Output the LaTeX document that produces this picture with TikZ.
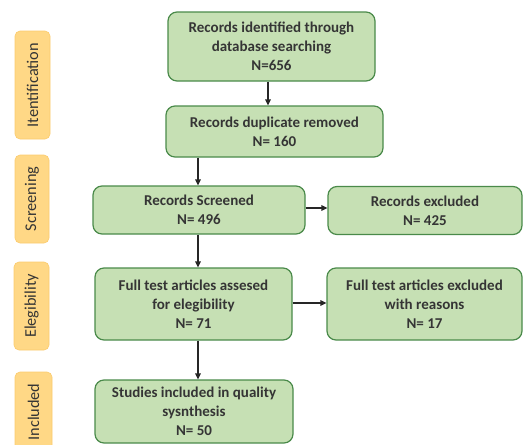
\documentclass[tikz,border=0pt]{standalone}
\usepackage{fontspec}
\setmainfont{Carlito}
\usetikzlibrary{arrows.meta,calc}
\definecolor{boxfill}{HTML}{C6E0B4}
\definecolor{boxline}{HTML}{4A8A4A}
\definecolor{tagfill}{HTML}{FFD886}
\definecolor{tagline}{HTML}{FBCB6E}
\definecolor{txt}{HTML}{353535}
\tikzset{
  x=1pt,y=-1pt,
  stagebox/.style={draw=boxline, fill=boxfill, line width=1.2pt, rounded corners=9pt,
    align=center, text=txt, inner sep=2pt,
    font=\bfseries\fontsize{15}{19}\selectfont},
  tagbox/.style={draw=tagline, fill=tagfill, line width=0.6pt, rounded corners=5pt,
    rotate=90, text=txt, inner sep=0pt, font=\fontsize{16.3}{18}\selectfont},
  arr/.style={-{Triangle[length=6pt,width=5.5pt]}, line width=1.4pt, draw=black!85}
}
\begin{document}
\begin{tikzpicture}
\useasboundingbox (0,0) rectangle (523,445);
% stage tags
\node[tagbox, minimum width=108pt, minimum height=35pt] (t1) at (32.5,85) {Itentification};
\node[tagbox, minimum width=88pt, minimum height=34pt] (t2) at (32,199) {Screening};
\node[tagbox, minimum width=88pt, minimum height=35pt] (t3) at (31.5,306) {Elegibility};
\node[tagbox, minimum width=80pt, minimum height=37pt] (t4) at (33.5,412) {Included};
% boxes
\node[stagebox, minimum width=207pt, minimum height=69pt] (b1) at (271.5,46.5)
  {Records identified through\\database searching\\N=656};
\node[stagebox, minimum width=217pt, minimum height=51pt] (b2) at (274.5,131.5)
  {Records duplicate removed\\N= 160};
\node[stagebox, minimum width=212pt, minimum height=48pt] (b3) at (199,210)
  {Records Screened\\N= 496};
\node[stagebox, minimum width=194pt, minimum height=48pt] (b4) at (425,210.5)
  {Records excluded\\N= 425};
\node[stagebox, minimum width=197pt, minimum height=72pt] (b5) at (193.5,304)
  {Full test articles assesed\\for elegibility\\N= 71};
\node[stagebox, minimum width=195pt, minimum height=72pt] (b6) at (424.5,304)
  {Full test articles excluded\\with reasons\\N= 17};
\node[stagebox, minimum width=198pt, minimum height=63pt] (b7) at (194,411.5)
  {Studies included in quality\\sysnthesis\\N= 50};
% connectors
\coordinate (c1) at (268,0);
\coordinate (c2) at (198,0);
\draw[arr] (c1 |- b1.south) -- (c1 |- b2.north);
\draw[arr] (c2 |- b2.south) -- (c2 |- b3.north);
\draw[arr] (c2 |- b3.south) -- (c2 |- b5.north);
\draw[arr] (c2 |- b5.south) -- (c2 |- b7.north);
\draw[arr] ($(b3.east)+(0,-2)$) -- ($(b4.west |- b3.east)+(0,-2)$);
\draw[arr] ($(b5.east)+(0,-1)$) -- ($(b6.west |- b5.east)+(0,-1)$);
\end{tikzpicture}
\end{document}
